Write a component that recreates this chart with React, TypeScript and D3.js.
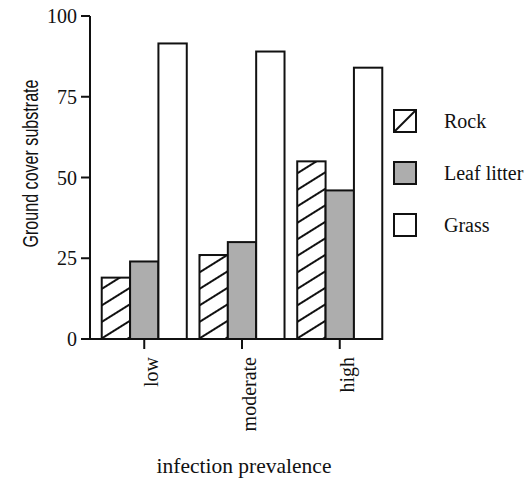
import * as d3 from "d3";

// Ground cover substrate by infection prevalence
const categories = ["low", "moderate", "high"];
const series = ["Rock", "Leaf litter", "Grass"];
const rock = [19, 26, 55];
const leafLitter = [24, 30, 46];
const grass = [91.5, 89, 84];
const yTicks = [0, 25, 50, 75, 100];

const values: number[][] = [rock, leafLitter, grass];
const fills = ["url(#hatch)", "#adadad", "#ffffff"];

export default function App() {
  const width = 531;
  const height = 483;
  const serif = "'Liberation Serif', 'Times New Roman', serif";
  const sans = "'Liberation Sans', Arial, sans-serif";

  const y = d3.scaleLinear().domain([0, 100]).range([339, 16]);
  const x0 = d3
    .scaleBand<string>()
    .domain(categories)
    .range([90, 394])
    .paddingInner(0.13)
    .paddingOuter(0.12);
  const x1 = d3
    .scaleBand<string>()
    .domain(series)
    .range([0, x0.bandwidth()])
    .padding(0);

  const lastEnd = (x0(categories[categories.length - 1]) ?? 0) + x0.bandwidth();

  return (
    <svg
      width={width}
      height={height}
      style={{ position: "absolute", left: 0, top: 0, background: "#fff" }}
      fontFamily={serif}
    >
      <defs>
        <pattern
          id="hatch"
          patternUnits="userSpaceOnUse"
          width={10}
          height={14}
          patternTransform="rotate(-32)"
        >
          <rect width={10} height={14} fill="#fff" />
          <line x1={0} y1={7} x2={10} y2={7} stroke="#111" strokeWidth={2} />
        </pattern>
      </defs>

      {/* bars */}
      {categories.map((c, ci) => (
        <g key={c} transform={`translate(${x0(c)},0)`}>
          {series.map((s, si) => (
            <rect
              key={s}
              x={x1(s)}
              y={y(values[si][ci])}
              width={x1.bandwidth()}
              height={y(0) - y(values[si][ci])}
              fill={fills[si]}
              stroke="#111"
              strokeWidth={2}
            />
          ))}
        </g>
      ))}

      {/* y axis */}
      <line x1={90} x2={90} y1={y(100)} y2={y(0)} stroke="#111" strokeWidth={2} />
      {yTicks.map((t) => (
        <g key={t} transform={`translate(0,${y(t)})`}>
          <line x1={81} x2={90} stroke="#111" strokeWidth={2} />
          <text x={77} dy="0.35em" textAnchor="end" fontSize={20} fill="#111">
            {t}
          </text>
        </g>
      ))}
      <text
        transform="translate(38,163.5) rotate(-90)"
        textAnchor="middle"
        fontSize={22.5}
        fontFamily={sans}
        textLength={168}
        lengthAdjust="spacingAndGlyphs"
        fill="#111"
      >
        Ground cover substrate
      </text>

      {/* x axis */}
      <line x1={89} x2={lastEnd} y1={y(0)} y2={y(0)} stroke="#111" strokeWidth={2} />
      {categories.map((c) => {
        const cx = (x0(c) ?? 0) + x0.bandwidth() / 2;
        return (
          <g key={c} transform={`translate(${cx},${y(0)})`}>
            <line y1={0} y2={10} stroke="#111" strokeWidth={2} />
            <text
              transform="translate(7,18) rotate(-90)"
              dy="0.35em"
              textAnchor="end"
              fontSize={20}
              fill="#111"
            >
              {c}
            </text>
          </g>
        );
      })}
      <text x={244} y={473} textAnchor="middle" fontSize={21.5} fill="#111">
        infection prevalence
      </text>

      {/* legend */}
      {series.map((s, i) => {
        const ly = 110 + i * 52;
        return (
          <g key={s} transform={`translate(394,${ly})`}>
            <rect
              width={22}
              height={22}
              fill={i === 1 ? fills[1] : "#fff"}
              stroke="#111"
              strokeWidth={2}
            />
            {i === 0 && <line x1={0} y1={22} x2={22} y2={0} stroke="#111" strokeWidth={2} />}
            <text x={50} y={11} dy="0.35em" fontSize={20} fill="#111">
              {s}
            </text>
          </g>
        );
      })}
    </svg>
  );
}
